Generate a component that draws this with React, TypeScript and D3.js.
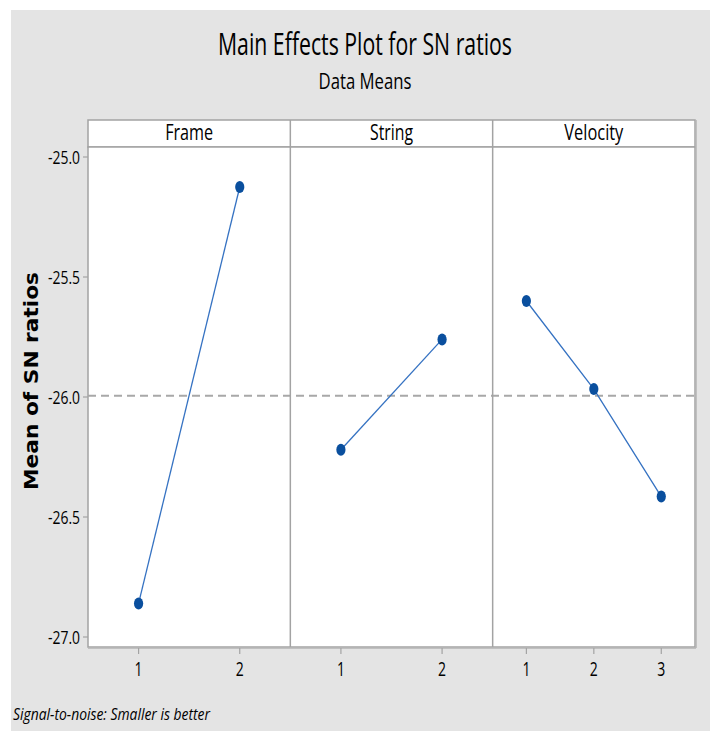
import React from "react";
import * as d3 from "d3";

const factors = ["Frame", "String", "Velocity"];
const frameLevels = ["1", "2"];
const frameMeans = [-26.86, -25.125];
const stringLevels = ["1", "2"];
const stringMeans = [-26.22, -25.76];
const velocityLevels = ["1", "2", "3"];
const velocityMeans = [-25.6, -25.967, -26.415];
const yTicks = [-25.0, -25.5, -26.0, -26.5, -27.0];
const overallMean = -25.995;

const title = "Main Effects Plot for SN ratios";
const subtitle = "Data Means";
const yLabel = "Mean of SN ratios";
const footnote = "Signal-to-noise: Smaller is better";

const panels = [
  { name: factors[0], levels: frameLevels, values: frameMeans },
  { name: factors[1], levels: stringLevels, values: stringMeans },
  { name: factors[2], levels: velocityLevels, values: velocityMeans },
];

const W = 710;
const H = 731;
const plotLeft = 88;
const plotRight = 695;
const headerTop = 120;
const headerBottom = 147;
const plotBottom = 647;

const FONT = "'Open Sans', 'Noto Sans', sans-serif";
const GRID = "#a3a3a3";
const LINE = "#3572c2";
const DOT = "#0a4f9e";

export default function App() {
  const y = d3.scaleLinear().domain([-25, -27]).range([157, 637]);
  const panelScale = d3
    .scaleBand<string>()
    .domain(factors)
    .range([plotLeft, plotRight])
    .paddingInner(0)
    .paddingOuter(0);
  const bw = panelScale.bandwidth();

  const line = d3
    .line<[number, number]>()
    .x((d) => d[0])
    .y((d) => d[1]);

  return (
    <svg
      width={W}
      height={H}
      style={{ position: "absolute", left: 0, top: 0, background: "#fff" }}
    >
      <rect x={11} y={10} width={W - 11} height={H - 10} fill="#e4e4e4" />

      <text
        x={365}
        y={55}
        textAnchor="middle"
        fontFamily={FONT}
        fontSize={31}
        fontWeight={500}
        textLength={294}
        lengthAdjust="spacingAndGlyphs"
        fill="#000"
      >
        {title}
      </text>
      <text
        x={365}
        y={89}
        textAnchor="middle"
        fontFamily={FONT}
        fontSize={21}
        fontWeight={500}
        textLength={93}
        lengthAdjust="spacingAndGlyphs"
        fill="#000"
      >
        {subtitle}
      </text>

      {/* header strip */}
      <rect
        x={plotLeft}
        y={headerTop}
        width={plotRight - plotLeft}
        height={headerBottom - headerTop}
        fill="#fff"
        stroke={GRID}
        strokeWidth={1.5}
      />
      {/* plot area */}
      <rect
        x={plotLeft}
        y={headerBottom}
        width={plotRight - plotLeft}
        height={plotBottom - headerBottom}
        fill="#fff"
        stroke={GRID}
        strokeWidth={1.5}
      />
      <line x1={plotRight + 1} x2={plotRight + 1} y1={headerTop} y2={plotBottom + 1} stroke="#b5b5b5" strokeWidth={1.5} />
      <line x1={plotLeft} x2={plotRight + 1} y1={plotBottom + 1} y2={plotBottom + 1} stroke="#b5b5b5" strokeWidth={1.5} />

      {/* reference line */}
      <line
        x1={plotLeft}
        x2={plotRight}
        y1={y(overallMean)}
        y2={y(overallMean)}
        stroke="#a8a8a8"
        strokeWidth={2}
        strokeDasharray="8 5"
      />

      {/* y ticks */}
      {yTicks.map((t) => (
        <g key={t}>
          <line x1={plotLeft - 5} x2={plotLeft} y1={y(t)} y2={y(t)} stroke={GRID} strokeWidth={1.2} />
          <text
            x={80}
            y={y(t) + 7}
            textAnchor="end"
            fontFamily={FONT}
            fontSize={19}
            textLength={32}
            lengthAdjust="spacingAndGlyphs"
            fill="#000"
          >
            {t.toFixed(1)}
          </text>
        </g>
      ))}

      {/* y label */}
      <text
        transform={`translate(38, ${381}) rotate(-90)`}
        textAnchor="middle"
        fontFamily="'DejaVu Sans', Verdana, sans-serif"
        fontWeight="bold"
        fontSize={20}
        textLength={218}
        lengthAdjust="spacingAndGlyphs"
        fill="#000"
      >
        {yLabel}
      </text>

      {panels.map((p, i) => {
        const x0 = panelScale(p.name) as number;
        const xs = d3
          .scalePoint<string>()
          .domain(p.levels)
          .range([x0, x0 + bw])
          .padding(0.5);
        const pts: [number, number][] = p.levels.map((l, j) => [
          xs(l) as number,
          y(p.values[j]),
        ]);
        const headerWidths = [48, 43, 59];
        return (
          <g key={p.name}>
            {i > 0 && (
              <line x1={x0} x2={x0} y1={headerTop} y2={plotBottom} stroke={GRID} strokeWidth={1.5} />
            )}
            <text
              x={x0 + bw / 2}
              y={140}
              textAnchor="middle"
              fontFamily={FONT}
              fontSize={22}
              fontWeight={500}
              textLength={headerWidths[i]}
              lengthAdjust="spacingAndGlyphs"
              fill="#000"
            >
              {p.name}
            </text>
            {p.levels.map((l) => (
              <g key={l}>
                <line
                  x1={xs(l)}
                  x2={xs(l)}
                  y1={plotBottom + 1}
                  y2={plotBottom + 7}
                  stroke={GRID}
                  strokeWidth={1.2}
                />
                <text
                  transform={`translate(${xs(l)}, ${676}) scale(0.7, 1)`}
                  textAnchor="middle"
                  fontFamily={FONT}
                  fontSize={20}
                  fontWeight={500}
                  fill="#000"
                >
                  {l}
                </text>
              </g>
            ))}
            <path d={line(pts) || ""} fill="none" stroke={LINE} strokeWidth={1.3} />
            {pts.map((pt, j) => (
              <ellipse key={j} cx={pt[0]} cy={pt[1]} rx={4.6} ry={6} fill={DOT} />
            ))}
          </g>
        );
      })}

      <text
        x={13}
        y={720}
        fontFamily={FONT}
        fontStyle="italic"
        fontSize={17}
        textLength={197}
        lengthAdjust="spacingAndGlyphs"
        fill="#000"
      >
        {footnote}
      </text>
    </svg>
  );
}
